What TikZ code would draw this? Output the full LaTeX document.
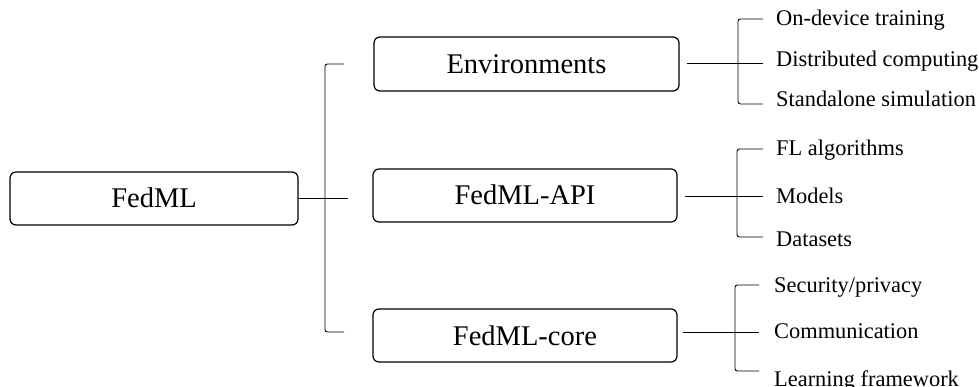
\documentclass[tikz,border=0pt]{standalone}
\usepackage{fontspec}
\setmainfont{Liberation Serif}
\begin{document}
\begin{tikzpicture}[x=1pt,y=-1pt,
  box/.style={draw, rounded corners=6pt, line width=1.2pt, inner sep=0pt,
    font=\fontsize{28.5}{30}\selectfont, text height=20pt, text depth=1pt},
  leaf/.style={anchor=base west, inner sep=0pt, font=\fontsize{22.4}{24}\selectfont},
  conn/.style={line width=0.9pt},
  brk/.style={line width=0.9pt, rounded corners=2.5pt}]
\useasboundingbox (0,0) rectangle (979,387);
\clip (0,0) rectangle (979,387);
% main boxes
\node[box, minimum width=288pt, minimum height=53pt] (fedml) at (154,198.5) {FedML};
\node[box, minimum width=305pt, minimum height=54pt] (env) at (526.5,64) {Environments};
\node[box, minimum width=304pt, minimum height=53pt] (api) at (525,195.5) {FedML-API};
\node[box, minimum width=304pt, minimum height=53pt] (core) at (525,335.5) {FedML-core};
% leaves
\node[leaf] (l1) at (776,26) {On-device training};
\node[leaf] (l2) at (776,66.5) {Distributed computing};
\node[leaf] (l3) at (776,106.5) {Standalone simulation};
\node[leaf] (l4) at (776,156) {FL algorithms};
\node[leaf] (l5) at (776,204) {Models};
\node[leaf] (l6) at (776,247) {Datasets};
\node[leaf] (l7) at (774,292) {Security/privacy};
\node[leaf] (l8) at (774,338.5) {Communication};
\node[leaf] (l9) at (774,386) {Learning framework};
% left bracket
\coordinate (m0) at (348,198.5);
\coordinate (mt) at (344,64);
\coordinate (mb) at (344,332);
\draw[conn] (fedml.east) -- (m0);
\draw[brk] (mt) -- (325,64) -- (325,332) -- (mb);
% environments bracket
\coordinate (e0) at (687,63);
\coordinate (e1) at (763,19);
\coordinate (e2) at (763,63);
\coordinate (e3) at (763,104);
\draw[conn] (e0) -- (e2);
\draw[brk] (e1) -- (738,19) -- (738,104) -- (e3);
% api bracket
\coordinate (a0) at (685,196);
\coordinate (a1) at (763,149);
\coordinate (a2) at (763,196);
\coordinate (a3) at (763,237);
\draw[conn] (a0) -- (a2);
\draw[brk] (a1) -- (737,149) -- (737,237) -- (a3);
% core bracket
\coordinate (c0) at (683,332);
\coordinate (c1) at (759,285);
\coordinate (c2) at (759,332);
\coordinate (c3) at (759,371);
\draw[conn] (c0) -- (c2);
\draw[brk] (c1) -- (735,285) -- (735,371) -- (c3);
\end{tikzpicture}
\end{document}
